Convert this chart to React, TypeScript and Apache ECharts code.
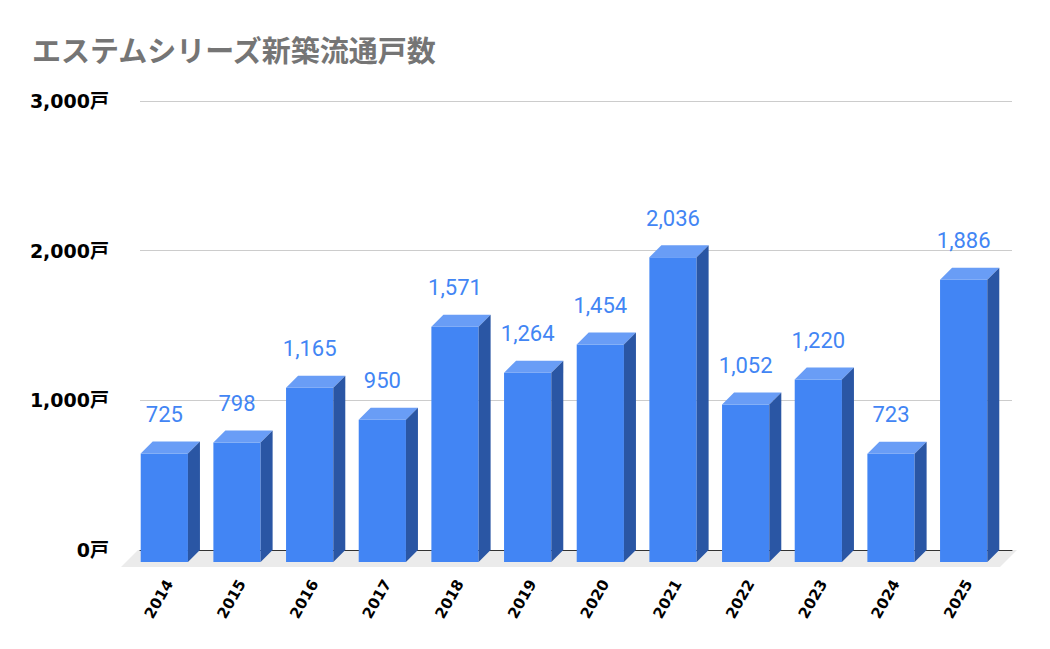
import * as echarts from "echarts";
import { useEffect, useRef } from "react";

const years: string[] = ["2014", "2015", "2016", "2017", "2018", "2019", "2020", "2021", "2022", "2023", "2024", "2025"];
const units: number[] = [725, 798, 1165, 950, 1571, 1264, 1454, 2036, 1052, 1220, 723, 1886];
const yTicks: number[] = [0, 1000, 2000, 3000];

const DEPTH = 12; // 3D depth of bars
const FLOOR = 17; // depth of the floor
const GRID_LEFT = 140;
const GRID_RIGHT = 38;
const GRID_TOP = 101;
const GRID_BOTTOM = 99;
const W = 1050;
const H = 649;

const FRONT = "#4285f4";
const TOP = "#699df6";
const SIDE = "#2a56a4";

const App = () => {
  const chartRef = useRef<HTMLDivElement>(null);

  useEffect(() => {
    const chart = echarts.init(chartRef.current, null, { renderer: "svg" });
    const floorY = H - GRID_BOTTOM;
    const options: any = {
      animation: false,
      title: {
        text: "エステムシリーズ新築流通戸数",
        left: 27,
        top: 32,
        textStyle: {
          color: "#757575",
          fontSize: 29,
          fontWeight: "bold",
          fontFamily: "'DejaVu Sans', 'Noto Sans CJK JP'",
        },
      },
      graphic: [
        {
          type: "polygon",
          z: -1,
          silent: true,
          shape: {
            points: [
              [GRID_LEFT - 2, floorY],
              [W - GRID_RIGHT + 5, floorY],
              [W - GRID_RIGHT + 5 - FLOOR, floorY + FLOOR],
              [GRID_LEFT - 2 - FLOOR, floorY + FLOOR],
            ],
          },
          style: { fill: "#ebebeb" },
        },
      ],
      grid: [
        { left: GRID_LEFT, right: GRID_RIGHT, top: GRID_TOP, bottom: GRID_BOTTOM },
        { left: GRID_LEFT - 7, right: GRID_RIGHT + 7, top: GRID_TOP, bottom: GRID_BOTTOM },
      ],
      xAxis: [
        {
          type: "category",
          data: years,
          gridIndex: 0,
          axisLine: { show: true, lineStyle: { color: "#333333", width: 1 } },
          axisTick: { show: false },
          axisLabel: { show: false },
        },
        {
          type: "category",
          data: years,
          gridIndex: 1,
          axisLine: { show: false },
          axisTick: { show: false },
          axisLabel: {
            rotate: 60,
            margin: 31,
            color: "#000000",
            fontSize: 15,
            fontWeight: "bold",
            fontFamily: "'DejaVu Sans'",
          },
        },
      ],
      yAxis: [
        {
          type: "value",
          gridIndex: 0,
          min: yTicks[0],
          max: yTicks[yTicks.length - 1],
          interval: yTicks[1] - yTicks[0],
          axisLine: { show: false },
          axisTick: { show: false },
          splitLine: { lineStyle: { color: "#cccccc" } },
          axisLabel: {
            margin: 31,
            color: "#000000",
            fontSize: 19,
            fontWeight: "bold",
            fontFamily: "'DejaVu Sans', 'Noto Sans CJK JP'",
            formatter: (v: number) => `${v.toLocaleString("en-US")}戸`,
          },
        },
        {
          type: "value",
          gridIndex: 1,
          show: false,
          min: 0,
          max: 3000,
        },
      ],
      series: [
        {
          type: "custom",
          xAxisIndex: 0,
          yAxisIndex: 0,
          clip: false,
          z: 5,
          data: units.map((v, i) => [i, v]),
          renderItem: (params: any, api: any) => {
            const idx = api.value(0);
            const v = api.value(1);
            const top = api.coord([idx, v]);
            const base = api.coord([idx, 0]);
            const w = api.size([1, 0])[0] * 0.65;
            const bl = top[0] - w / 2;
            const br = top[0] + w / 2;
            const ty = top[1];
            const by = base[1];
            const d = DEPTH;
            return {
              type: "group",
              children: [
                {
                  type: "rect",
                  shape: { x: bl - d, y: ty + d, width: w, height: by - ty },
                  style: { fill: FRONT },
                },
                {
                  type: "polygon",
                  shape: {
                    points: [
                      [bl - d, ty + d],
                      [br - d, ty + d],
                      [br, ty],
                      [bl, ty],
                    ],
                  },
                  style: { fill: TOP },
                },
                {
                  type: "polygon",
                  shape: {
                    points: [
                      [br - d, ty + d],
                      [br, ty],
                      [br, by],
                      [br - d, by + d],
                    ],
                  },
                  style: { fill: SIDE },
                },
                {
                  type: "text",
                  style: {
                    text: v.toLocaleString("en-US"),
                    x: top[0] - d,
                    y: ty - 16,
                    align: "center",
                    verticalAlign: "bottom",
                    fill: FRONT,
                    fontSize: 22,
                    fontFamily: "Roboto",
                  },
                },
              ],
            };
          },
        },
      ],
    };
    chart.setOption(options);
    return () => {
      chart.dispose();
    };
  }, []);

  return (
    <div style={{ position: "absolute", left: 0, top: 0, width: W, height: H, background: "#ffffff" }}>
      <div ref={chartRef} style={{ width: W, height: H }}></div>
    </div>
  );
};

export default App;
